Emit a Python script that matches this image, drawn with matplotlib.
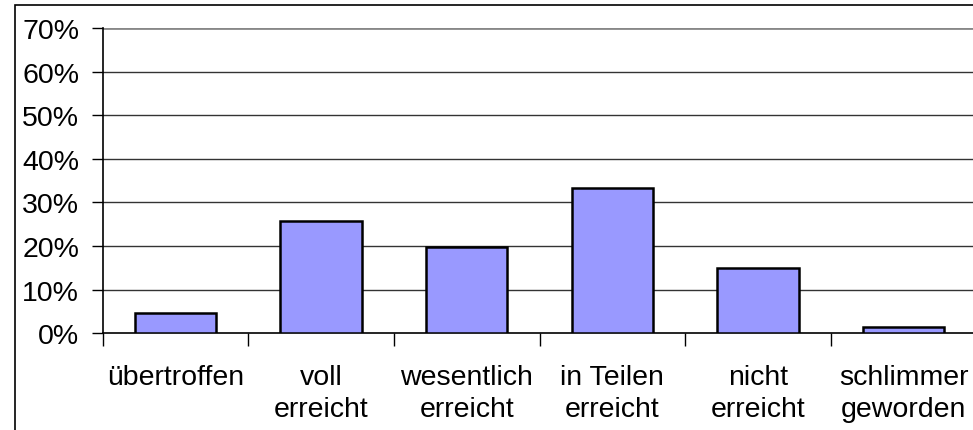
import matplotlib.pyplot as plt
from matplotlib.ticker import FixedLocator, PercentFormatter

categories = ['übertroffen', 'voll\nerreicht', 'wesentlich\nerreicht',
              'in Teilen\nerreicht', 'nicht\nerreicht', 'schlimmer\ngeworden']
shares = [4.6, 25.8, 19.7, 33.3, 15.0, 1.5]
yticks = [0, 10, 20, 30, 40, 50, 60, 70]

plt.rcParams['font.family'] = ['Liberation Sans', 'DejaVu Sans']

fig = plt.figure(figsize=(9.73, 4.31), dpi=100)
ax = fig.add_axes([0.1055, 0.2244, 0.898, 0.7084])

# outer chart frame (only left and top edges visible in the crop)
fig.add_artist(plt.Rectangle((0.0154, -0.1), 1.2, 1.086, transform=fig.transFigure,
                             fill=False, edgecolor='black', linewidth=1.2))

x = range(len(categories))
ax.bar(x, shares, width=0.56, color='#9999ff', edgecolor='black', linewidth=1.8, zorder=3)

ax.set_xlim(-0.5, len(categories) - 0.5)
ax.set_ylim(0, 70)
ax.set_yticks(yticks)
ax.yaxis.set_major_formatter(PercentFormatter(decimals=0))
for v in yticks[1:-1]:
    ax.axhline(v, color='#333333', linewidth=1.0, zorder=1)
ax.axhline(70, color='#888888', linewidth=2.0, zorder=1)

ax.set_xticks(list(x))
ax.set_xticklabels(categories, linespacing=1.3)
ax.xaxis.set_minor_locator(FixedLocator([i - 0.5 for i in range(len(categories) + 1)]))
ax.tick_params(axis='x', which='major', length=0, pad=22, labelsize=20.5)
ax.tick_params(axis='x', which='minor', length=9, width=1.0, direction='out')
ax.tick_params(axis='y', length=8, width=1.0, pad=9, labelsize=20.5)

for side in ['top', 'right']:
    ax.spines[side].set_visible(False)
ax.spines['left'].set_linewidth(1.2)
ax.spines['bottom'].set_linewidth(1.2)

fig.savefig('out.png', dpi=100)
